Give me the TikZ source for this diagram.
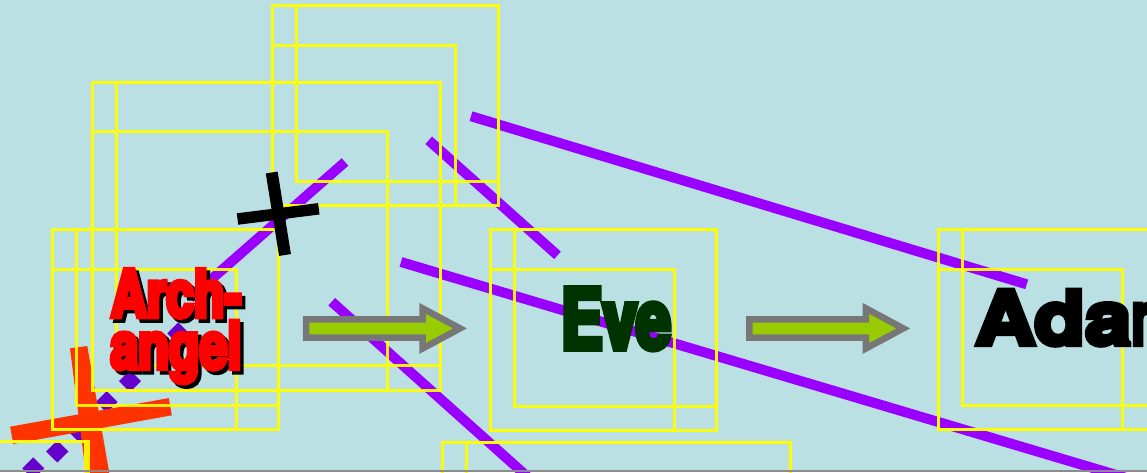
\documentclass[tikz,border=0pt]{standalone}
\usepackage{graphicx}
\usepackage{fontspec}
\newfontfamily\archfont[FakeStretch=0.76,FakeBold=7]{TeX Gyre Heros}
\newfontfamily\evefont[FakeStretch=0.74,FakeBold=6.5]{TeX Gyre Heros}
\newfontfamily\adamfont[FakeStretch=1.12,FakeBold=7]{TeX Gyre Heros}

\definecolor{stagecyan}{RGB}{186,224,227}
\definecolor{linepurple}{RGB}{153,0,255}
\definecolor{dotviolet}{RGB}{102,0,204}
\definecolor{crossorange}{RGB}{255,51,0}
\definecolor{boxyellow}{RGB}{255,255,0}
\definecolor{arrowgray}{RGB}{119,119,119}
\definecolor{arrowgreen}{RGB}{153,204,0}
\definecolor{evegreen}{RGB}{0,51,0}
\definecolor{floorgray}{RGB}{140,140,140}

\tikzset{
  purpleline/.style={draw=linepurple, line width=10pt},
  dotdiamond/.style={fill=dotviolet},
  debugbox/.style={draw=boxyellow, draw opacity=0.92, line width=2.2pt},
  arrowbody/.style={draw=arrowgray, fill=arrowgreen, line width=6.5pt, miter limit=10}
}

\begin{document}
\begin{tikzpicture}[x=1pt,y=1pt,yscale=-1,xscale=1]
\useasboundingbox (0,0) rectangle (1147,472);
\clip (0,0) rectangle (1147,472);

%Shape: Rectangle [stage]
\fill[stagecyan] (0,0) rectangle (1147,472);

%Straight Lines [purple]
\draw[purpleline] (471,116.2) -- (1026.7,284.3) ;
\draw[purpleline] (428.7,140.3) -- (557.5,255.3) ;
\draw[purpleline] (345,162) -- (190,298) ;
\draw[purpleline] (401,262) -- (1160,488) ;
\draw[purpleline] (331.7,301.7) -- (540,488) ;

%Shape: Diamonds
\fill[dotdiamond] (178.3,322.3) -- (189.3,333.3) -- (178.3,344.3) -- (167.3,333.3) -- cycle ;
\fill[dotdiamond] (130,370) -- (141,381) -- (130,392) -- (119,381) -- cycle ;
\fill[dotdiamond] (106.7,391) -- (117.5,402) -- (106.7,413) -- (95.9,402) -- cycle ;
\fill[dotdiamond] (80,421) -- (91,432) -- (80,443) -- (69,432) -- cycle ;
\fill[dotdiamond] (57.3,440.5) -- (68.5,451.5) -- (57.3,462.5) -- (46.1,451.5) -- cycle ;
\fill[dotdiamond] (33.3,457.3) -- (44.3,468.3) -- (33.3,479.3) -- (22.3,468.3) -- cycle ;

%Shape: Orange cross
\fill[crossorange] (70,348.3) -- (87.3,346) -- (110.5,480) -- (86.7,480) -- cycle ;
\draw[crossorange, line width=17.5pt] (11.7,435.3) -- (170.3,406.7) ;

%Shape: Bounding boxes
\draw[debugbox] (272.5,5.5) rectangle (498.5,205.5) ;
\draw[debugbox] (296.5,5.5) rectangle (498.5,181.5) ;
\draw[debugbox] (272.5,45.5) rectangle (455.5,205.5) ;
\draw[debugbox] (92.5,82.5) rectangle (440.5,390.5) ;
\draw[debugbox] (116.5,82.5) rectangle (440.5,365.5) ;
\draw[debugbox] (92.5,131.5) rectangle (387.5,390.5) ;
\draw[debugbox] (52.5,229.5) rectangle (278.5,429.5) ;
\draw[debugbox] (76.5,229.5) rectangle (278.5,405.5) ;
\draw[debugbox] (52.5,269.5) rectangle (236.5,429.5) ;
\draw[debugbox] (490.5,229.5) rectangle (716.5,430.5) ;
\draw[debugbox] (514.5,229.5) rectangle (716.5,406.5) ;
\draw[debugbox] (490.5,269.5) rectangle (674.5,430.5) ;
\draw[debugbox] (938.5,229.5) rectangle (1165,429.5) ;
\draw[debugbox] (962.5,229.5) rectangle (1165,405.5) ;
\draw[debugbox] (938.5,269.5) rectangle (1122.5,429.5) ;
\draw[debugbox] (442.5,442.5) rectangle (790.5,750) ;
\draw[debugbox] (466.5,442.5) rectangle (790.5,726) ;
\draw[debugbox] (-260,441.5) rectangle (88.5,750) ;
\draw[debugbox] (-236,441.5) rectangle (85.5,726) ;

%Shape: Black cross
\draw[black, line width=12pt] (271.7,172.5) -- (285,255) ;
\draw[black, line width=11.5pt] (237.5,219) -- (318.8,208.8) ;

%Shape: Block arrow [Arch-angel to Eve]
\draw[arrowbody] (306,319.3) -- (422.5,319.3) -- (422.5,308.3) -- (460,328.4) -- (422.5,348.5) -- (422.5,337.5) -- (306,337.5) -- cycle ;
%Shape: Block arrow [Eve to Adam]
\draw[arrowbody] (749.3,319.3) -- (865.8,319.3) -- (865.8,308.3) -- (903.3,328.4) -- (865.8,348.5) -- (865.8,337.5) -- (749.3,337.5) -- cycle ;

%Shape: Floor line
\fill[floorgray] (0,469.5) rectangle (1147,472) ;

% Text Node
\node (archshadowA) [anchor=base, inner sep=0pt, text=black] at (179.5,320.6) {\archfont\bfseries\fontsize{65.7}{65.7}\selectfont Arch-};
% Text Node
\node (archshadowB) [anchor=base, inner sep=0pt, text=black] at (179.5,372.3) {\archfont\bfseries\fontsize{65.7}{65.7}\selectfont angel};
% Text Node
\node (archA) [anchor=base, inner sep=0pt, text=red] at (176,317.1) {\archfont\bfseries\fontsize{65.7}{65.7}\selectfont Arch-};
% Text Node
\node (archB) [anchor=base, inner sep=0pt, text=red] at (176,368.8) {\archfont\bfseries\fontsize{65.7}{65.7}\selectfont angel};
% Text Node
\node (eve) [anchor=base, inner sep=0pt, text=evegreen] at (616,349.1) {\evefont\bfseries\fontsize{84}{84}\selectfont Eve};
% Text Node
\node (adam) [anchor=base west, inner sep=0pt, text=black] at (975,344.5) {\adamfont\bfseries\fontsize{74.4}{74.4}\selectfont Ada\scalebox{0.62}[1]{m}};

\end{tikzpicture}
\end{document}
